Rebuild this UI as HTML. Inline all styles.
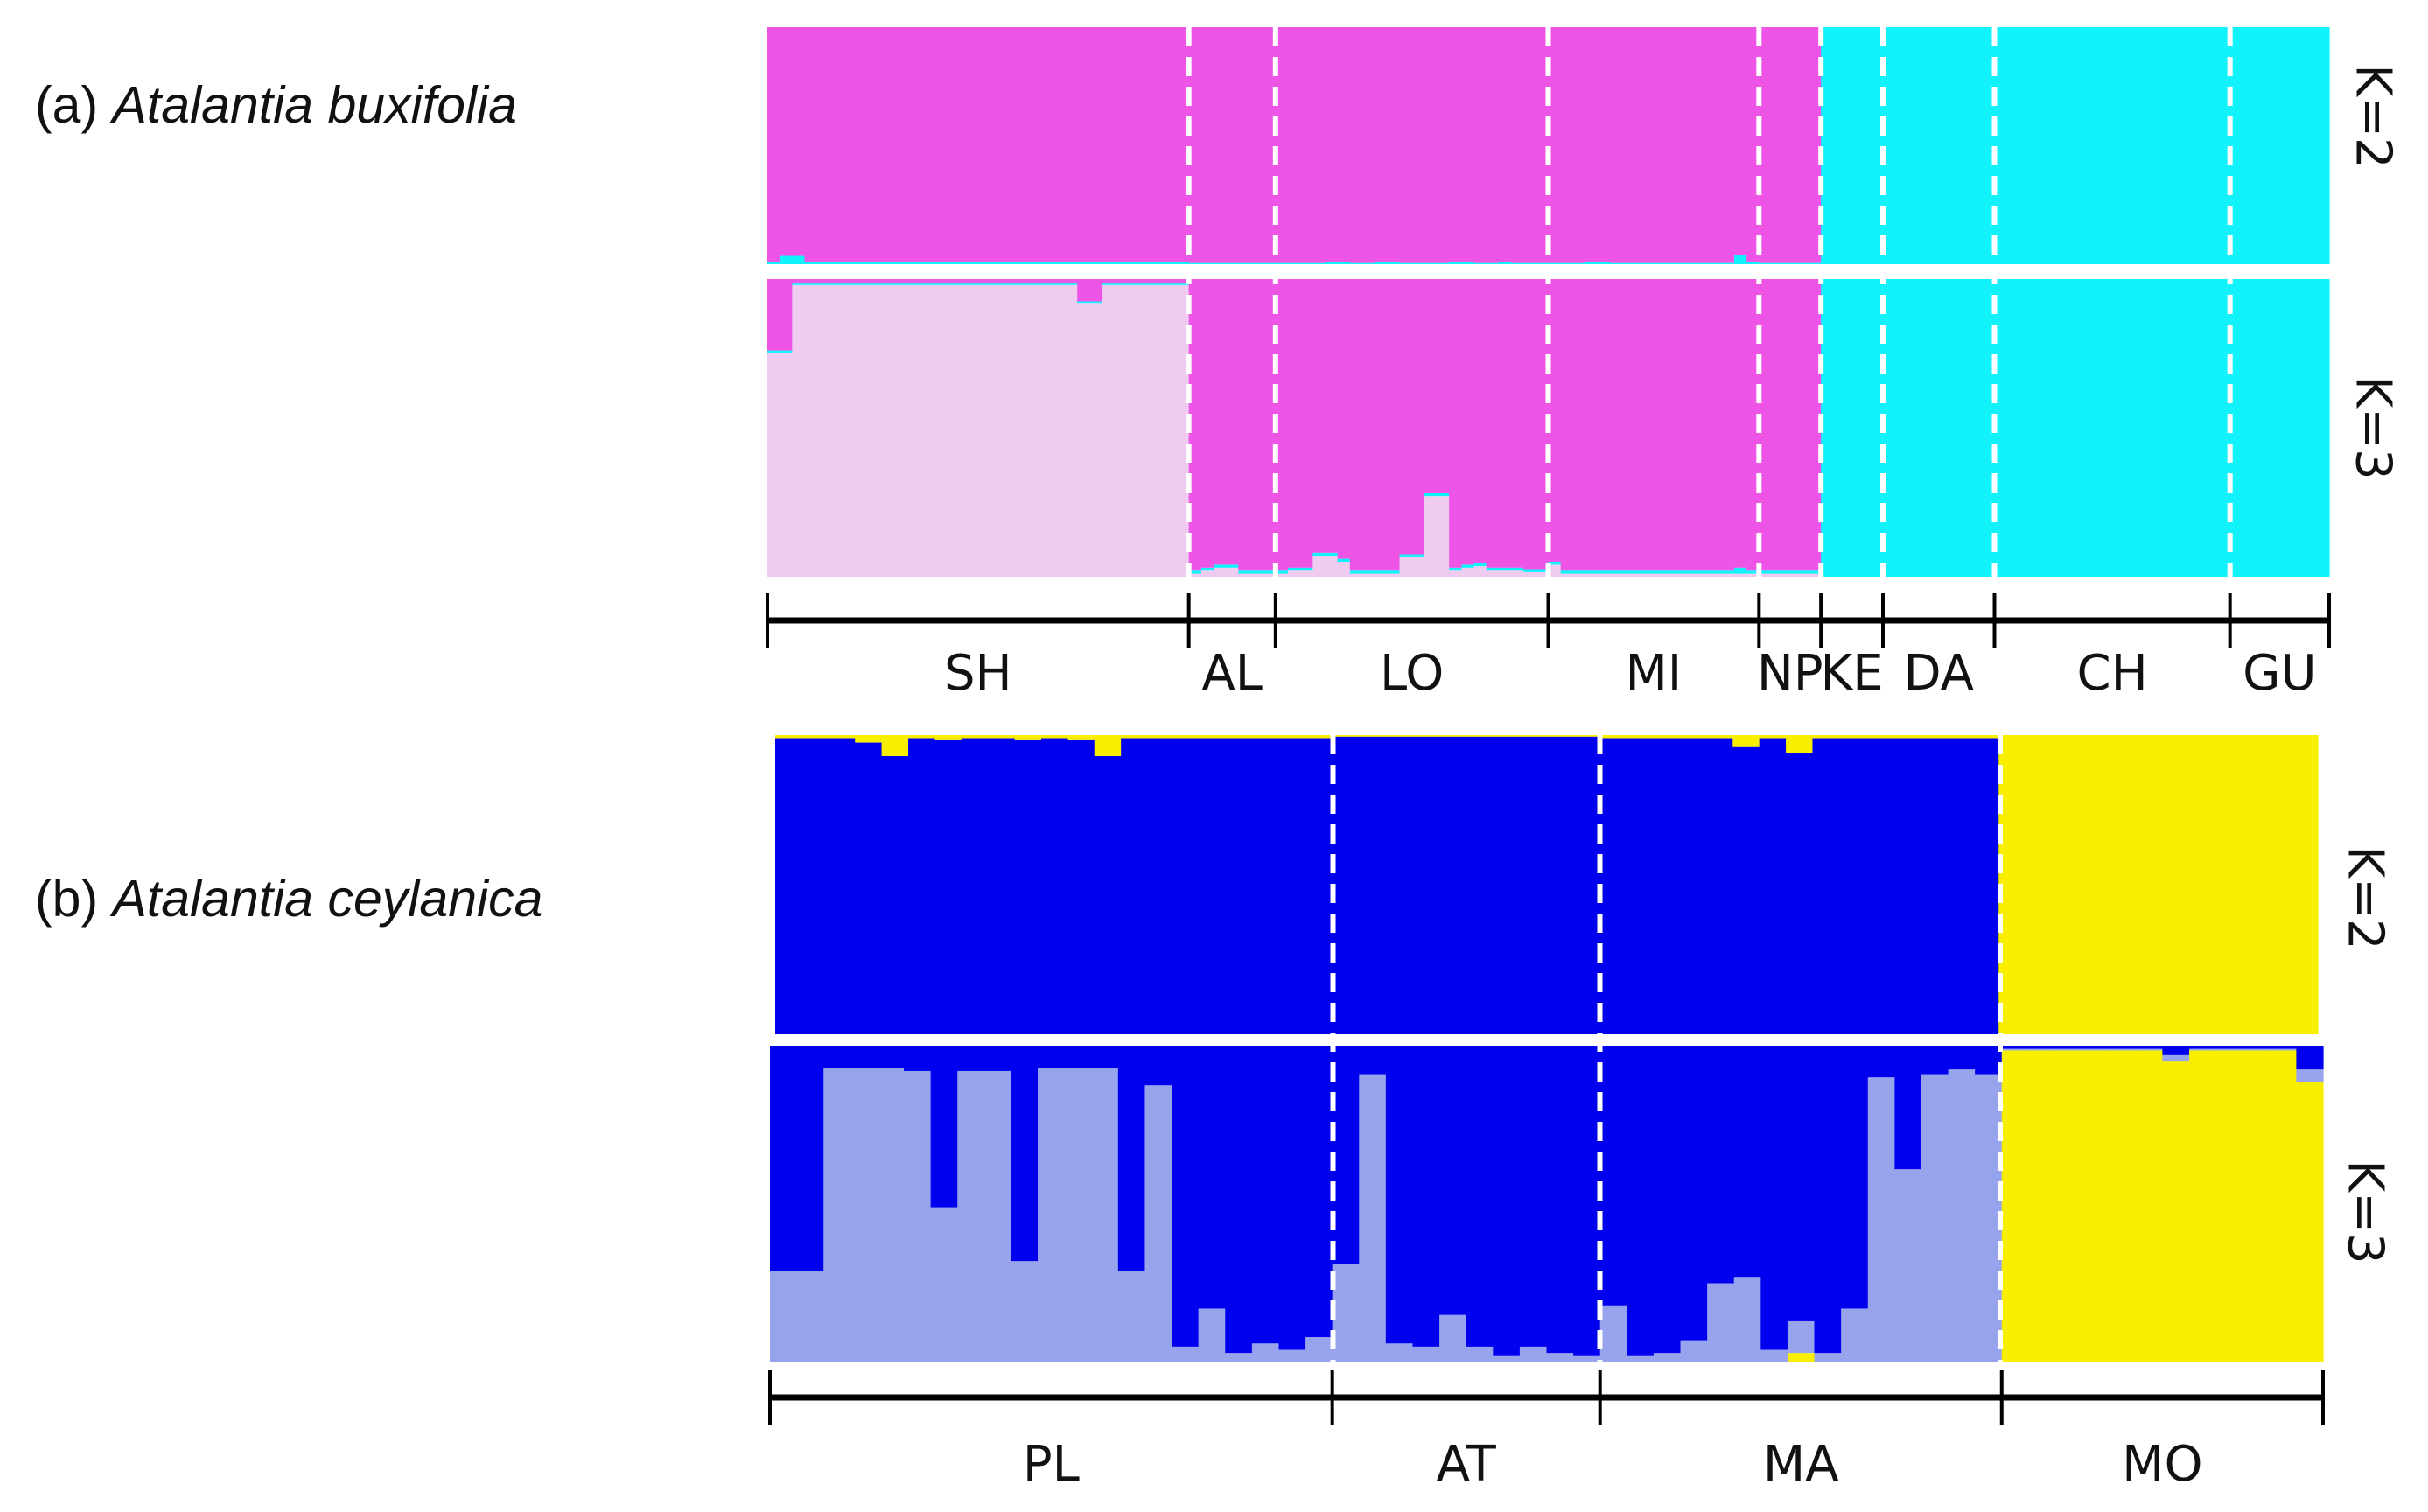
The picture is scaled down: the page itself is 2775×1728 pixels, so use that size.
<!DOCTYPE html>
<html><head><meta charset="utf-8">
<style>
html,body{margin:0;padding:0;background:#fff;}
svg{display:block;}
.t{font-family:"Liberation Sans","DejaVu Sans",sans-serif;font-size:59px;fill:#111;}
.lab{font-family:"DejaVu Sans","Liberation Sans",sans-serif;font-size:56px;fill:#111;}
</style></head>
<body>
<svg id="chart" width="2775" height="1728" viewBox="0 0 2775 1728" xmlns="http://www.w3.org/2000/svg">
<text class="t" x="40" y="140">(a) <tspan font-style="italic">Atalantia buxifolia</tspan></text>
<text class="t" x="40" y="1047">(b) <tspan font-style="italic">Atalantia ceylanica</tspan></text>
<g id="plot"></g>
</svg>
<script>
// ---------- Panel (a) data ----------
const popsA = ["SH","AL","LO","MI","NP","KE","DA","CH","GU"];
const countsA = [34,7,22,17,5,5,9,19,8];
// K=2: cyan fraction per individual (remainder magenta); groups concatenated
const aK2Cyan = [
 0.01,0.035,0.035,0.01,0.01,0.01,0.01,0.01,0.01,0.01,0.01,0.01,0.01,0.01,0.01,0.01,0.01,0.01,0.01,0.01,0.01,0.01,0.01,0.01,0.01,0.01,0.01,0.01,0.01,0.01,0.01,0.01,0.01,0.01,
 0.005,0.005,0.005,0.005,0.005,0.005,0.005,
 0.005,0.005,0.005,0.005,0.01,0.01,0.005,0.005,0.01,0.01,0.005,0.005,0.005,0.005,0.01,0.01,0.005,0.005,0.01,0.005,0.005,0.005,
 0.005,0.005,0.005,0.01,0.01,0.005,0.005,0.005,0.005,0.005,0.005,0.005,0.005,0.005,0.005,0.04,0.01,
 0.005,0.005,0.005,0.005,0.005,
 1,1,1,1,1, 1,1,1,1,1,1,1,1,1, 1,1,1,1,1,1,1,1,1,1,1,1,1,1,1,1,1,1,1, 1,1,1,1,1,1,1,1
];
// K=3: light-pink fraction (bottom), cyan fraction (middle), remainder magenta
const aK3Pink = [
 0.75,0.75,0.98,0.98,0.98,0.98,0.98,0.98,0.98,0.98,0.98,0.98,0.98,0.98,0.98,0.98,0.98,0.98,0.98,0.98,0.98,0.98,0.98,0.98,0.98,0.92,0.92,0.98,0.98,0.98,0.98,0.98,0.98,0.98,
 0.01,0.02,0.03,0.03,0.01,0.01,0.01,
 0.01,0.02,0.02,0.07,0.07,0.05,0.01,0.01,0.01,0.01,0.065,0.065,0.27,0.27,0.02,0.03,0.035,0.02,0.02,0.02,0.015,0.015,
 0.04,0.01,0.01,0.01,0.01,0.01,0.01,0.01,0.01,0.01,0.01,0.01,0.01,0.01,0.01,0.01,0.01,
 0.01,0.01,0.01,0.01,0.01,
 0,0,0,0,0, 0,0,0,0,0,0,0,0,0, 0,0,0,0,0,0,0,0,0,0,0,0,0,0,0,0,0,0,0, 0,0,0,0,0,0,0,0
];
const aK3Cyan = [
 0.01,0.01,0.005,0.005,0.005,0.005,0.005,0.005,0.005,0.005,0.005,0.005,0.005,0.005,0.005,0.005,0.005,0.005,0.005,0.005,0.005,0.005,0.005,0.005,0.005,0.005,0.005,0.005,0.005,0.005,0.005,0.005,0.005,0.005,
 0.01,0.01,0.01,0.01,0.01,0.01,0.01,
 0.01,0.01,0.01,0.01,0.01,0.01,0.01,0.01,0.01,0.01,0.01,0.01,0.01,0.01,0.01,0.01,0.01,0.01,0.01,0.01,0.01,0.01,
 0.01,0.01,0.01,0.01,0.01,0.01,0.01,0.01,0.01,0.01,0.01,0.01,0.01,0.01,0.01,0.02,0.01,
 0.01,0.01,0.01,0.01,0.01,
 1,1,1,1,1, 1,1,1,1,1,1,1,1,1, 1,1,1,1,1,1,1,1,1,1,1,1,1,1,1,1,1,1,1, 1,1,1,1,1,1,1,1
];
// ---------- Panel (b) data ----------
const popsB = ["PL","AT","MA","MO"];
const countsB = [21,10,15,12];
// K=2: yellow fraction (top), remainder blue
const bK2Yellow = [
 0.01,0.01,0.01,0.025,0.07,0.01,0.017,0.01,0.01,0.017,0.01,0.017,0.07,0.01,0.01,0.01,0.01,0.01,0.01,0.01,0.01,
 0.005,0.005,0.005,0.005,0.005,0.005,0.005,0.005,0.005,0.005,
 0.01,0.01,0.01,0.01,0.01,0.04,0.01,0.06,0.01,0.01,0.01,0.01,0.01,0.01,0.01,
 1,1,1,1,1,1,1,1,1,1,1,1
];
// K=3: yellow (bottom), light blue (middle), remainder blue
const bK3Yellow = [
 0,0,0,0,0,0,0,0,0,0,0,0,0,0,0,0,0,0,0,0,0,
 0,0,0,0,0,0,0,0,0,0,
 0,0,0,0,0,0,0,0.03,0,0,0,0,0,0,0,
 0.985,0.985,0.985,0.985,0.985,0.985,0.95,0.985,0.985,0.985,0.985,0.885
];
const bK3Light = [
 0.29,0.29,0.93,0.93,0.93,0.92,0.49,0.92,0.92,0.32,0.93,0.93,0.93,0.29,0.875,0.05,0.17,0.03,0.06,0.04,0.08,
 0.31,0.91,0.06,0.05,0.15,0.05,0.02,0.05,0.03,0.02,
 0.18,0.02,0.03,0.07,0.25,0.27,0.04,0.10,0.03,0.17,0.90,0.61,0.91,0.925,0.91,
 0.005,0.005,0.005,0.005,0.005,0.005,0.02,0.005,0.005,0.005,0.005,0.04
];

const NS="http://www.w3.org/2000/svg";
const root=document.getElementById('plot');
function mk(tag,attrs,parent){const e=document.createElementNS(NS,tag);for(const k in attrs)e.setAttribute(k,attrs[k]);(parent||root).appendChild(e);return e;}

const MAG="#ee55e6",CYAN="#11f2fa",LPINK="#eecbef",BLUE="#0000ef",LBLUE="#97a3ec",YEL="#f8ef00";

function panel(g,x0,x1,y0,y1,n,layers,name){
  const w=(x1-x0)/n, h=y1-y0;
  const xs=i=>x0+i*w;
  const ys=v=>h*v;
  for(let i=0;i<n;i++){
    let acc=0;
    for(const L of layers){
      const v = L.vals? Math.max(0,Math.min(1-acc,L.vals[i])) : Math.max(0,1-acc);
      if(v<=0) continue;
      const r=mk('rect',{x:xs(i),y:y1-ys(acc+v),width:w+0.6,height:ys(v),fill:L.color},g);
      
      
      acc+=v;
    }
  }
}
function dashes(g,x0,x1,counts,y0,y1,name){
  const n=counts.reduce((a,b)=>a+b,0), w=(x1-x0)/n; let c=0;
  for(let k=0;k<counts.length-1;k++){
    c+=counts[k];
    const l=mk('line',{x1:x0+c*w,x2:x0+c*w,y1:y0,y2:y1,stroke:'#fff','stroke-width':6,'stroke-dasharray':'22 12'},g);
    
    
  }
}
function axis(g,x0,x1,counts,pops,ay,ly,name){
  const n=counts.reduce((a,b)=>a+b,0), w=(x1-x0)/n;
  const ln=mk('line',{x1:x0,x2:x1,y1:ay,y2:ay,stroke:'#000','stroke-width':7},g);
  
  
  let c=0;
  const ticks=[0];
  counts.forEach(k=>{c+=k;ticks.push(c);});
  ticks.forEach(t=>{
    const tk=mk('line',{x1:x0+t*w,x2:x0+t*w,y1:ay-31,y2:ay+31,stroke:'#000','stroke-width':4},g);
    
    
  });
  for(let k=0;k<pops.length;k++){
    const cx=x0+(ticks[k]+ticks[k+1])/2*w;
    const t=mk('text',{x:cx,y:ly,'text-anchor':'middle',class:'lab'},g);
    t.textContent=pops[k];
    
    
  }
}
function klabel(g,x,y,txt){
  const t=mk('text',{x:x,y:y,'text-anchor':'middle','dominant-baseline':'central',class:'lab',transform:`rotate(90 ${x} ${y})`},g);
  t.textContent=txt;
  
  
}

// Panel a
const nA=countsA.reduce((a,b)=>a+b,0);
const gA=mk('g',{});


panel(gA,877,2662,31,302,nA,[{key:'cyan',color:CYAN,vals:aK2Cyan},{key:'magenta',color:MAG}],'a-k2');
panel(gA,877,2662,319,659,nA,[{key:'lightpink',color:LPINK,vals:aK3Pink},{key:'cyan',color:CYAN,vals:aK3Cyan},{key:'magenta',color:MAG}],'a-k3');
dashes(gA,877,2662,countsA,31,659,'a');
axis(gA,877,2662,countsA,popsA,709,788,'a');
klabel(gA,2712,133,'K=2');
klabel(gA,2712,489,'K=3');

// Panel b
const nB=countsB.reduce((a,b)=>a+b,0);
const gB=mk('g',{});


panel(gB,886,2649,840,1182,nB,[{key:'blue',color:BLUE,vals:bK2Yellow.map(v=>1-v)},{key:'yellow',color:YEL}],'b-k2');
panel(gB,880,2655,1195,1557,nB,[{key:'yellow',color:YEL,vals:bK3Yellow},{key:'lightblue',color:LBLUE,vals:bK3Light},{key:'blue',color:BLUE}],'b-k3');
dashes(gB,883,2652,countsB,840,1557,'b');
axis(gB,880,2655,countsB,popsB,1597,1692,'b');
klabel(gB,2703,1026,'K=2');
klabel(gB,2703,1385,'K=3');
</script>
</body></html>
